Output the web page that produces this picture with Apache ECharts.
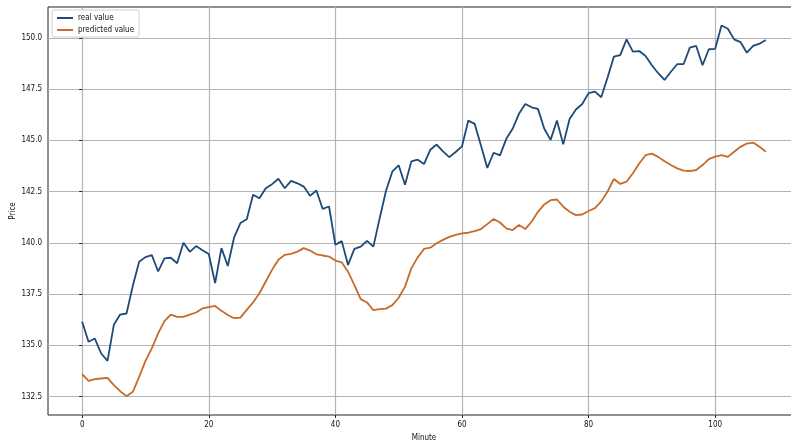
<!DOCTYPE html>
<html>
<head>
<meta charset="utf-8">
<title>real vs predicted</title>
<script src="https://cdn.jsdelivr.net/npm/echarts@6/dist/echarts.min.js"></script>
<style>
  html, body { margin: 0; padding: 0; background: #fff; }
  #chart { width: 791px; height: 444px; }
</style>
</head>
<body>
<div id="chart"></div>
<script>
// values, one per minute (0..108)
const realValue = [
  136.15, 135.17, 135.33, 134.6, 134.24, 136.0, 136.5, 136.55, 137.9, 139.07,
  139.3, 139.4, 138.6, 139.24, 139.27, 139.0, 140.0, 139.56, 139.84, 139.64,
  139.45, 138.03, 139.74, 138.87, 140.26, 140.96, 141.15, 142.34, 142.17, 142.66,
  142.86, 143.12, 142.66, 143.02, 142.9, 142.74, 142.29, 142.55, 141.65, 141.77,
  139.9, 140.08, 138.92, 139.7, 139.81, 140.09, 139.81, 141.2, 142.54, 143.48,
  143.78, 142.83, 143.97, 144.05, 143.84, 144.54, 144.79, 144.46, 144.18, 144.43,
  144.7, 145.96, 145.8, 144.75, 143.65, 144.39, 144.26, 145.07, 145.56, 146.29,
  146.77, 146.61, 146.53, 145.56, 145.02, 145.96, 144.8, 146.04, 146.5, 146.77,
  147.3, 147.37, 147.1, 148.06, 149.08, 149.15, 149.92, 149.32, 149.35, 149.11,
  148.66, 148.27, 147.94, 148.34, 148.71, 148.71, 149.52, 149.6, 148.66, 149.44,
  149.46, 150.6, 150.44, 149.92, 149.79, 149.27, 149.6, 149.71, 149.89
]
const predictedValue = [
  133.59, 133.27, 133.35, 133.38, 133.41, 133.06, 132.76, 132.52, 132.73, 133.46,
  134.24, 134.85, 135.58, 136.18, 136.5, 136.39, 136.39, 136.5, 136.6, 136.8,
  136.86, 136.92, 136.68, 136.48, 136.32, 136.35, 136.73, 137.09, 137.54, 138.11,
  138.68, 139.17, 139.41, 139.46, 139.57, 139.74, 139.62, 139.44, 139.38, 139.33,
  139.13, 139.05, 138.59, 137.94, 137.25, 137.09, 136.71, 136.76, 136.79, 136.96,
  137.32, 137.86, 138.75, 139.29, 139.7, 139.76, 139.98, 140.14, 140.29, 140.38,
  140.46, 140.49, 140.57, 140.67, 140.91, 141.16, 140.99, 140.7, 140.62, 140.87,
  140.67, 141.03, 141.51, 141.87, 142.08, 142.11, 141.76, 141.51, 141.35, 141.38,
  141.55, 141.69, 142.02, 142.5, 143.11, 142.87, 142.98, 143.39, 143.87, 144.27,
  144.35, 144.19, 143.98, 143.79, 143.63, 143.52, 143.5, 143.55, 143.79, 144.08,
  144.2, 144.27, 144.19, 144.44, 144.68, 144.84, 144.89, 144.68, 144.44
]
const xTicks = [0, 20, 40, 60, 80, 100]
const yTicks = [132.5, 135.0, 137.5, 140.0, 142.5, 145.0, 147.5, 150.0]

const font = 'DejaVu Sans Condensed, DejaVu Sans, sans-serif'
const gridLine = { show: true, lineStyle: { color: '#b4b4b4', width: 1.2 } }

const chart = echarts.init(document.getElementById('chart'), null, { renderer: 'canvas' })

chart.setOption({
  animation: false,
  textStyle: { fontFamily: font },
  grid: {
    left: 48,
    top: 7,
    right: -9,
    bottom: 29,
    containLabel: false,
    outerBoundsMode: 'none',
    show: true,
    borderColor: '#222',
    borderWidth: 1,
  },
  legend: {
    orient: 'vertical',
    left: 52,
    top: 10,
    itemWidth: 16,
    itemHeight: 2,
    itemGap: 4,
    padding: [4, 5, 3, 5],
    backgroundColor: '#fff',
    borderColor: '#d0d0d0',
    borderWidth: 1,
    borderRadius: 2,
    icon: 'rect',
    textStyle: { fontSize: 8, color: '#111', fontFamily: font },
    data: ['real value', 'predicted value'],
  },
  xAxis: {
    type: 'value',
    min: -5.4,
    max: 113.4,
    name: 'Minute',
    nameLocation: 'middle',
    nameGap: 19,
    nameMoveOverlap: false,
    nameTextStyle: { fontSize: 8, color: '#111', fontFamily: font },
    axisLine: { show: false },
    axisTick: { show: true, customValues: xTicks, length: 3, lineStyle: { color: '#222' } },
    axisLabel: { customValues: xTicks, fontSize: 8, color: '#111', margin: 6 },
    splitLine: gridLine,
  },
  yAxis: {
    type: 'value',
    min: 131.6,
    max: 151.5,
    name: 'Price',
    nameLocation: 'middle',
    nameGap: 31,
    nameMoveOverlap: false,
    nameTextStyle: { fontSize: 8, color: '#111', fontFamily: font },
    axisLine: { show: false },
    axisTick: { show: true, customValues: yTicks, length: 3, lineStyle: { color: '#222' } },
    axisLabel: {
      customValues: yTicks,
      fontSize: 8,
      color: '#111',
      margin: 6,
      formatter: (v) => v.toFixed(1),
    },
    splitLine: gridLine,
  },
  series: [
    {
      name: 'real value',
      type: 'line',
      data: realValue.map((v, i) => [i, v]),
      showSymbol: false,
      color: '#1d4b79',
      lineStyle: { width: 1.8 },
    },
    {
      name: 'predicted value',
      type: 'line',
      data: predictedValue.map((v, i) => [i, v]),
      showSymbol: false,
      color: '#c86a28',
      lineStyle: { width: 1.8 },
    },
  ],
})
</script>
</body>
</html>
